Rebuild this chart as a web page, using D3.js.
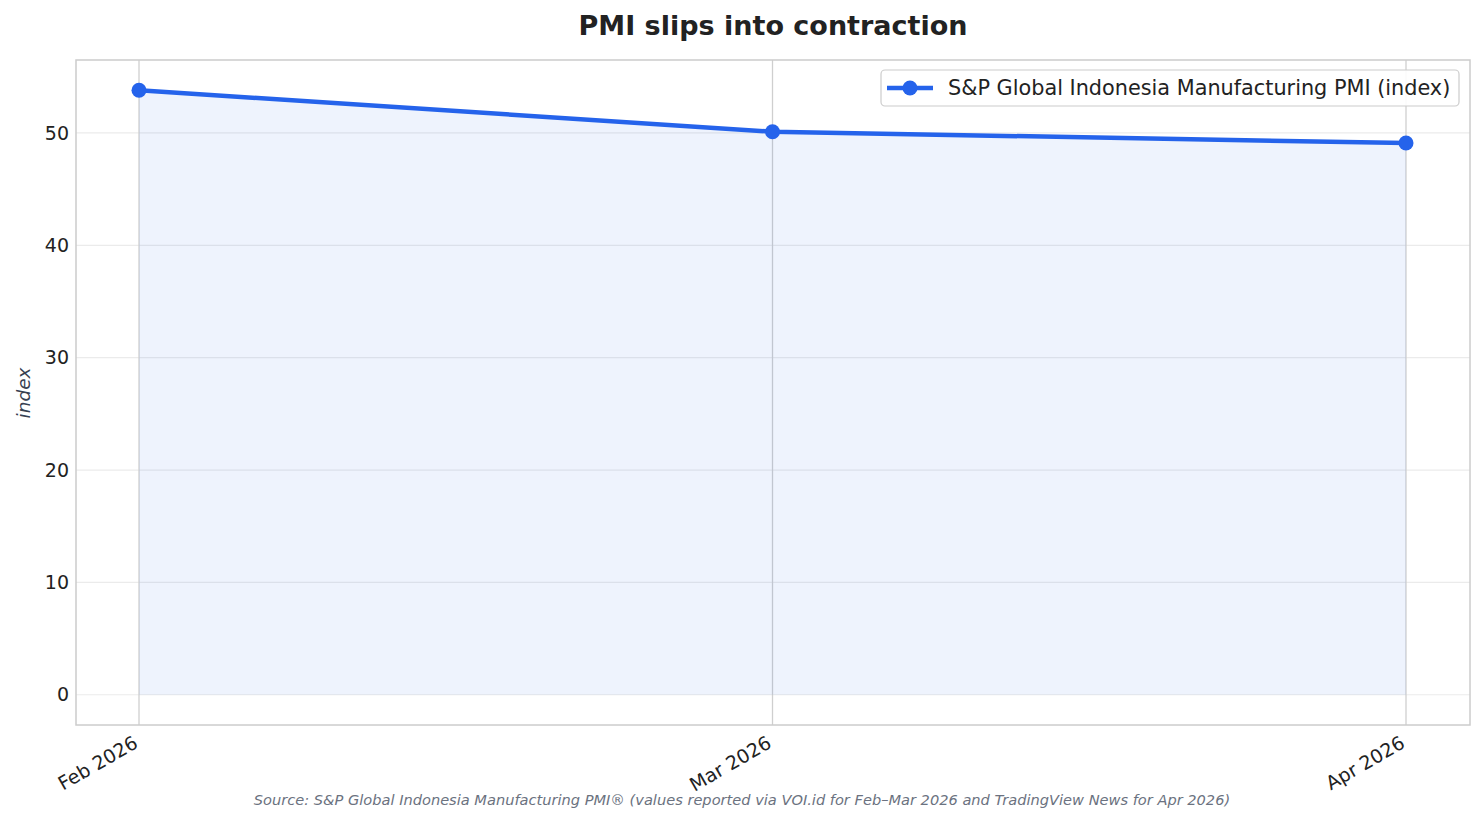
<!DOCTYPE html>
<html><head><meta charset="utf-8">
<script src="https://cdn.jsdelivr.net/npm/d3@7"></script>
<style>body{margin:0;background:#fff;font-family:"DejaVu Sans",sans-serif;}</style>
</head><body>
<svg id="c" width="1484" height="823"></svg>
<script>
const months = ["Feb 2026", "Mar 2026", "Apr 2026"];
const pmiValues = [53.8, 50.1, 49.1];
const yTicks = [0, 10, 20, 30, 40, 50];
const seriesName = "S&P Global Indonesia Manufacturing PMI (index)";
const titleText = "PMI slips into contraction";
const sourceText = "Source: S&P Global Indonesia Manufacturing PMI® (values reported via VOI.id for Feb–Mar 2026 and TradingView News for Apr 2026)";

const svg = d3.select("#c");
const L = 76, R = 1470, T = 60, B = 725;
const color = "#2563eb";

const x = d3.scalePoint().domain(months).range([139, 1406]);
const ymax = d3.max(pmiValues);
const y = d3.scaleLinear().domain([-0.05 * ymax, ymax * 1.05]).range([B, T]);

svg.append("rect").attr("width", 1484).attr("height", 823).attr("fill", "#fff");

// horizontal grid
svg.append("g").selectAll("line").data(yTicks).join("line")
  .attr("x1", L).attr("x2", R).attr("y1", d => y(d)).attr("y2", d => y(d))
  .attr("stroke", "#ebebeb").attr("stroke-width", 1.2);
// vertical grid
svg.append("g").selectAll("line").data(months).join("line")
  .attr("y1", T).attr("y2", B).attr("x1", d => x(d)).attr("x2", d => x(d))
  .attr("stroke", "#cfcfcf").attr("stroke-width", 1.3);

const data = months.map((m, i) => ({m, v: pmiValues[i]}));
svg.append("path").datum(data)
  .attr("d", d3.area().x(d => x(d.m)).y0(y(0)).y1(d => y(d.v)))
  .attr("fill", color).attr("fill-opacity", 0.08);
svg.append("path").datum(data)
  .attr("d", d3.line().x(d => x(d.m)).y(d => y(d.v)))
  .attr("fill", "none").attr("stroke", color).attr("stroke-width", 4.5).attr("stroke-linejoin", "round");
svg.append("g").selectAll("circle").data(data).join("circle")
  .attr("cx", d => x(d.m)).attr("cy", d => y(d.v)).attr("r", 7.5).attr("fill", color);

// frame
svg.append("rect").attr("x", L).attr("y", T).attr("width", R - L).attr("height", B - T)
  .attr("fill", "none").attr("stroke", "#cccccc").attr("stroke-width", 1.5);

// y axis
const ya = svg.append("g").attr("transform", `translate(${L},0)`)
  .call(d3.axisLeft(y).tickValues(yTicks).tickSize(0).tickPadding(7));
ya.select(".domain").remove();
ya.selectAll("text").attr("font-size", 19).attr("fill", "#222").attr("font-family", "DejaVu Sans");

// x axis
const xa = svg.append("g").attr("transform", `translate(0,${B})`)
  .call(d3.axisBottom(x).tickSize(0).tickPadding(0));
xa.select(".domain").remove();
xa.selectAll("text").attr("font-size", 19).attr("fill", "#222").attr("font-family", "DejaVu Sans")
  .attr("text-anchor", "end").attr("dy", null)
  .attr("transform", "translate(-3,17) rotate(-30)").attr("y", 0).attr("x", 0)
  .attr("dominant-baseline", "middle");

// title
svg.append("text").attr("x", 773).attr("y", 35).attr("text-anchor", "middle")
  .attr("font-size", 27).attr("font-weight", "bold").attr("fill", "#222").text(titleText);

// y label
svg.append("text").attr("transform", "translate(30,393) rotate(-90)").attr("text-anchor", "middle")
  .attr("font-size", 18.5).attr("font-style", "italic").attr("fill", "#374151").text("index");

// source
svg.append("text").attr("x", 742).attr("y", 805).attr("text-anchor", "middle")
  .attr("font-size", 14.6).attr("font-style", "italic").attr("fill", "#6b7280").text(sourceText);

// legend
const lg = svg.append("g");
lg.append("rect").attr("x", 881).attr("y", 70).attr("width", 578).attr("height", 36).attr("rx", 4)
  .attr("fill", "#fff").attr("fill-opacity", 0.9).attr("stroke", "#cccccc").attr("stroke-width", 1.2);
lg.append("line").attr("x1", 887).attr("x2", 933).attr("y1", 88).attr("y2", 88)
  .attr("stroke", color).attr("stroke-width", 4.5);
lg.append("circle").attr("cx", 910).attr("cy", 88).attr("r", 7.5).attr("fill", color);
lg.append("text").attr("x", 948).attr("y", 95).attr("font-size", 20.8).attr("fill", "#222").text(seriesName);
</script>
</body></html>
